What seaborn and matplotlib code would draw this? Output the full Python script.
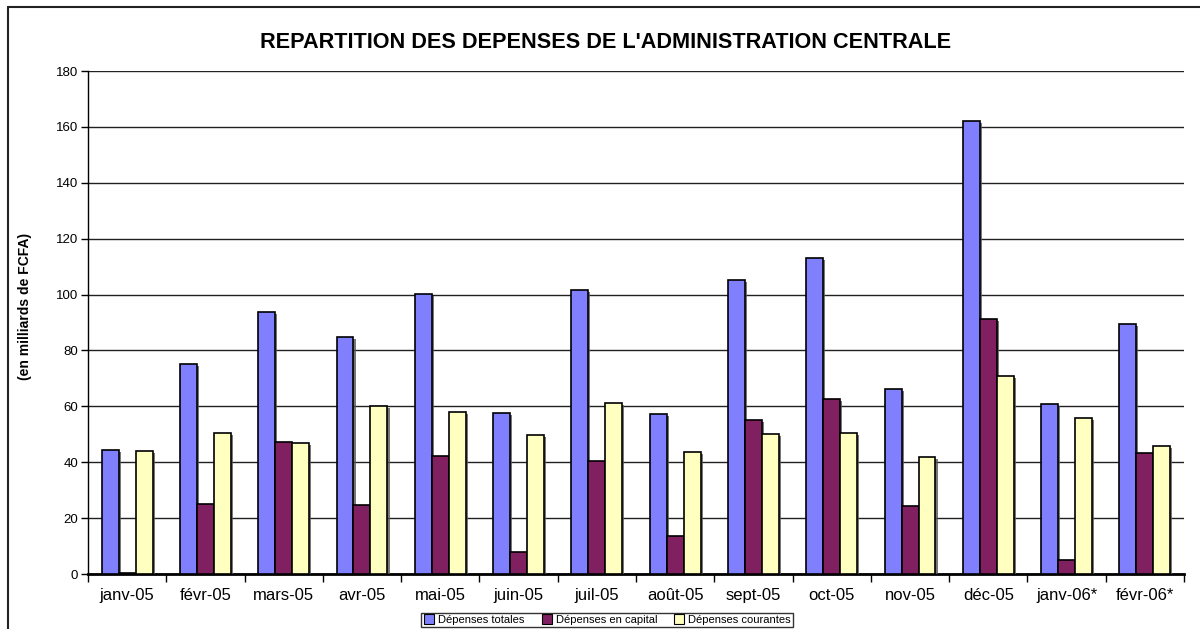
import matplotlib
matplotlib.use("Agg")
import matplotlib.pyplot as plt
import matplotlib.patheffects as pe
from matplotlib.lines import Line2D
import numpy as np
import pandas as pd
import seaborn as sns

months = ["janv-05", "févr-05", "mars-05", "avr-05", "mai-05", "juin-05", "juil-05",
          "août-05", "sept-05", "oct-05", "nov-05", "déc-05", "janv-06*", "févr-06*"]
totales = [44.4, 75.2, 93.8, 84.8, 100.2, 57.6, 101.6, 57.3, 105.2, 113.1, 66.2, 162.1, 60.8, 89.5]
capital = [0.3, 25.0, 47.2, 24.7, 42.2, 7.9, 40.4, 13.6, 55.1, 62.6, 24.3, 91.3, 5.0, 43.3]
courantes = [44.0, 50.5, 46.9, 60.1, 58.0, 49.7, 61.2, 43.7, 50.1, 50.5, 41.9, 70.9, 55.8, 45.8]
series = ["Dépenses totales", "Dépenses en capital", "Dépenses courantes"]
colors = ["#8080FF", "#802060", "#FFFFC0"]

df = pd.DataFrame({
    "mois": months * 3,
    "valeur": totales + capital + courantes,
    "serie": [s for s in series for _ in months],
})

sns.set_style("white")
plt.rcParams["font.family"] = ["Liberation Sans", "DejaVu Sans"]
plt.rcParams["text.color"] = "black"
plt.rcParams["axes.labelcolor"] = "black"
plt.rcParams["xtick.color"] = "black"
plt.rcParams["ytick.color"] = "black"

fig = plt.figure(figsize=(12, 6.29), dpi=100)
ax = fig.add_axes([0.0733, 0.0874, 0.9134, 0.7996])

sns.barplot(data=df, x="mois", y="valeur", hue="serie", palette=colors,
            width=0.65, gap=0, edgecolor="black", linewidth=1.2,
            saturation=1, legend=False, ax=ax, zorder=3)

# small drop shadow like the spreadsheet bars
for p in ax.patches:
    p.set_path_effects([pe.SimplePatchShadow(offset=(1.5, -1.5), shadow_rgbFace="#555555", alpha=0.8),
                        pe.Normal()])

ax.set_ylim(0, 180)
ax.set_xlim(-0.5, len(months) - 0.5)
ax.set_yticks(np.arange(0, 181, 20))
ax.yaxis.grid(True, color="#202020", linewidth=1, zorder=0)
ax.set_axisbelow(True)
ax.tick_params(axis="y", which="major", direction="out", length=5, width=1,
               labelsize=9.5, left=True, color="black", pad=2)
ax.set_xticks(range(len(months)))
ax.set_xticklabels(months)
ax.set_xticks(np.arange(-0.5, len(months), 1), minor=True)
ax.tick_params(axis="x", which="major", length=0, labelsize=12, pad=10)
ax.tick_params(axis="x", which="minor", direction="out", length=6, width=1,
               bottom=True, color="black")
ax.set_xlabel("")
ax.set_ylabel("(en milliards de FCFA)", fontsize=10, fontweight="bold")
ax.yaxis.set_label_coords(-0.051, 0.533)
for side in ["top", "right"]:
    ax.spines[side].set_visible(False)
ax.spines["left"].set_color("black")
ax.spines["bottom"].set_color("black")
ax.spines["bottom"].set_linewidth(2)
ax.spines["left"].set_linewidth(1)

fig.text(0.505, 1 - 43 / 629, "REPARTITION DES DEPENSES DE L'ADMINISTRATION CENTRALE",
         ha="center", va="center", fontsize=15.6, fontweight="bold", color="black")

handles = [Line2D([], [], marker="s", linestyle="", markersize=7,
                  markerfacecolor=c, markeredgecolor="black", markeredgewidth=0.8)
           for c in colors]
leg = fig.legend(handles, series, loc="center", bbox_to_anchor=(0.506, 1 - 620 / 629),
                 ncol=3, fontsize=8, frameon=True, fancybox=False, handletextpad=0.3,
                 columnspacing=1.5, borderpad=0.2, handlelength=1.0)
leg.get_frame().set_edgecolor("black")
leg.get_frame().set_linewidth(1)

# outer frame of the chart area
fig.add_artist(Line2D([8 / 1200, 1], [1 - 7 / 629, 1 - 7 / 629], color="#222222", lw=1.5,
                      transform=fig.transFigure))
fig.add_artist(Line2D([8 / 1200, 8 / 1200], [0, 1 - 7 / 629], color="#222222", lw=1.5,
                      transform=fig.transFigure))

fig.savefig("out.png", dpi=100)
